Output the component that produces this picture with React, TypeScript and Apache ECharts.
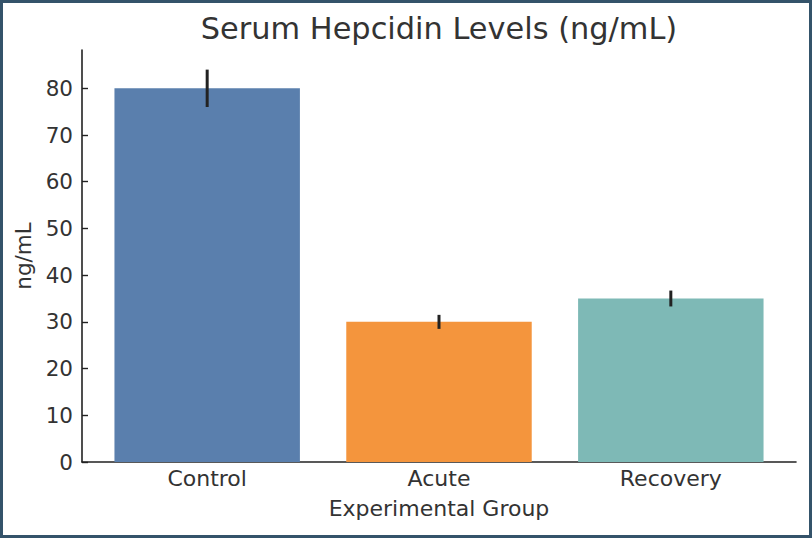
import React, { useEffect, useRef } from "react";
import * as echarts from "echarts";

const categories = ["Control", "Acute", "Recovery"];
const means = [80, 30, 35];
const errors = [4.0, 1.5, 1.7];
const barColors = ["#5A7FAD", "#F4953D", "#7EB9B6"];
const yTicks = [0, 10, 20, 30, 40, 50, 60, 70, 80];
const xTicks = [0, 1, 2];
const titleText = "Serum Hepcidin Levels (ng/mL)";
const xName = "Experimental Group";
const yName = "ng/mL";

const FONT = "DejaVu Sans";
const TEXT = "#333333";

export default function App() {
  const ref = useRef<HTMLDivElement>(null);
  useEffect(() => {
    document.body.style.margin = "0";
    if (!ref.current) return;
    const chart = echarts.init(ref.current, null, { renderer: "svg" });
    const option: any = {
      animation: false,
      backgroundColor: "#ffffff",
      textStyle: { fontFamily: FONT },
      grid: { left: 82, top: 50, right: 16, bottom: 76, containLabel: false },
      graphic: [
        {
          type: "text",
          x: 439,
          y: 28,
          style: {
            text: titleText,
            font: `30.4px "${FONT}"`,
            fill: TEXT,
            textAlign: "center",
            textVerticalAlign: "middle",
          },
        },
        {
          type: "rect",
          z: 100,
          shape: { x: 1.5, y: 1.5, width: 809, height: 535 },
          style: { fill: "none", stroke: "#34536a", lineWidth: 3 },
        },
      ],
      xAxis: {
        type: "value",
        min: -0.54,
        max: 2.54,
        name: xName,
        nameLocation: "middle",
        nameGap: 35,
        nameTextStyle: { fontFamily: FONT, fontSize: 22, color: TEXT },
        splitLine: { show: false },
        axisLine: { show: true, onZero: false, lineStyle: { color: "#222", width: 1.6 } },
        axisTick: {
          show: true,
          inside: true,
          length: 6,
          customValues: xTicks,
          lineStyle: { color: "#222", width: 1.4 },
        },
        axisLabel: {
          customValues: xTicks,
          formatter: (v: number) => categories[Math.round(v)] ?? "",
          fontFamily: FONT,
          fontSize: 22,
          color: TEXT,
          margin: 5,
        },
      },
      yAxis: {
        type: "value",
        min: 0,
        max: 88.2,
        name: yName,
        nameLocation: "middle",
        nameGap: 40,
        nameRotate: 90,
        nameTextStyle: { fontFamily: FONT, fontSize: 21.5, color: TEXT },
        splitLine: { show: false },
        axisLine: { show: true, onZero: false, lineStyle: { color: "#222", width: 1.6 } },
        axisTick: {
          show: true,
          inside: true,
          length: 6,
          customValues: yTicks,
          lineStyle: { color: "#222", width: 1.4 },
        },
        axisLabel: {
          customValues: yTicks,
          fontFamily: FONT,
          fontSize: 21.5,
          color: TEXT,
          margin: 9,
        },
      },
      series: [
        {
          type: "custom",
          name: "bars",
          data: means.map((m, i) => [i, m]),
          encode: { x: 0, y: 1 },
          renderItem: (params: any, api: any) => {
            const x = api.value(0);
            const y = api.value(1);
            const p1 = api.coord([x - 0.4, y]);
            const p2 = api.coord([x + 0.4, 0]);
            return {
              type: "rect",
              shape: { x: p1[0], y: p1[1], width: p2[0] - p1[0], height: p2[1] - p1[1] },
              style: { fill: barColors[params.dataIndex] },
            };
          },
        },
        {
          type: "custom",
          name: "errors",
          z: 5,
          data: means.map((m, i) => [i, m - errors[i], m + errors[i]]),
          encode: { x: 0, y: [1, 2] },
          renderItem: (params: any, api: any) => {
            const x = api.value(0);
            const lo = api.coord([x, api.value(1)]);
            const hi = api.coord([x, api.value(2)]);
            return {
              type: "line",
              shape: { x1: lo[0], y1: lo[1], x2: hi[0], y2: hi[1] },
              style: { stroke: "#222", lineWidth: 3 },
            };
          },
        },
      ],
    };
    chart.setOption(option);
    return () => chart.dispose();
  }, []);
  return <div ref={ref} style={{ width: 812, height: 538 }} />;
}
